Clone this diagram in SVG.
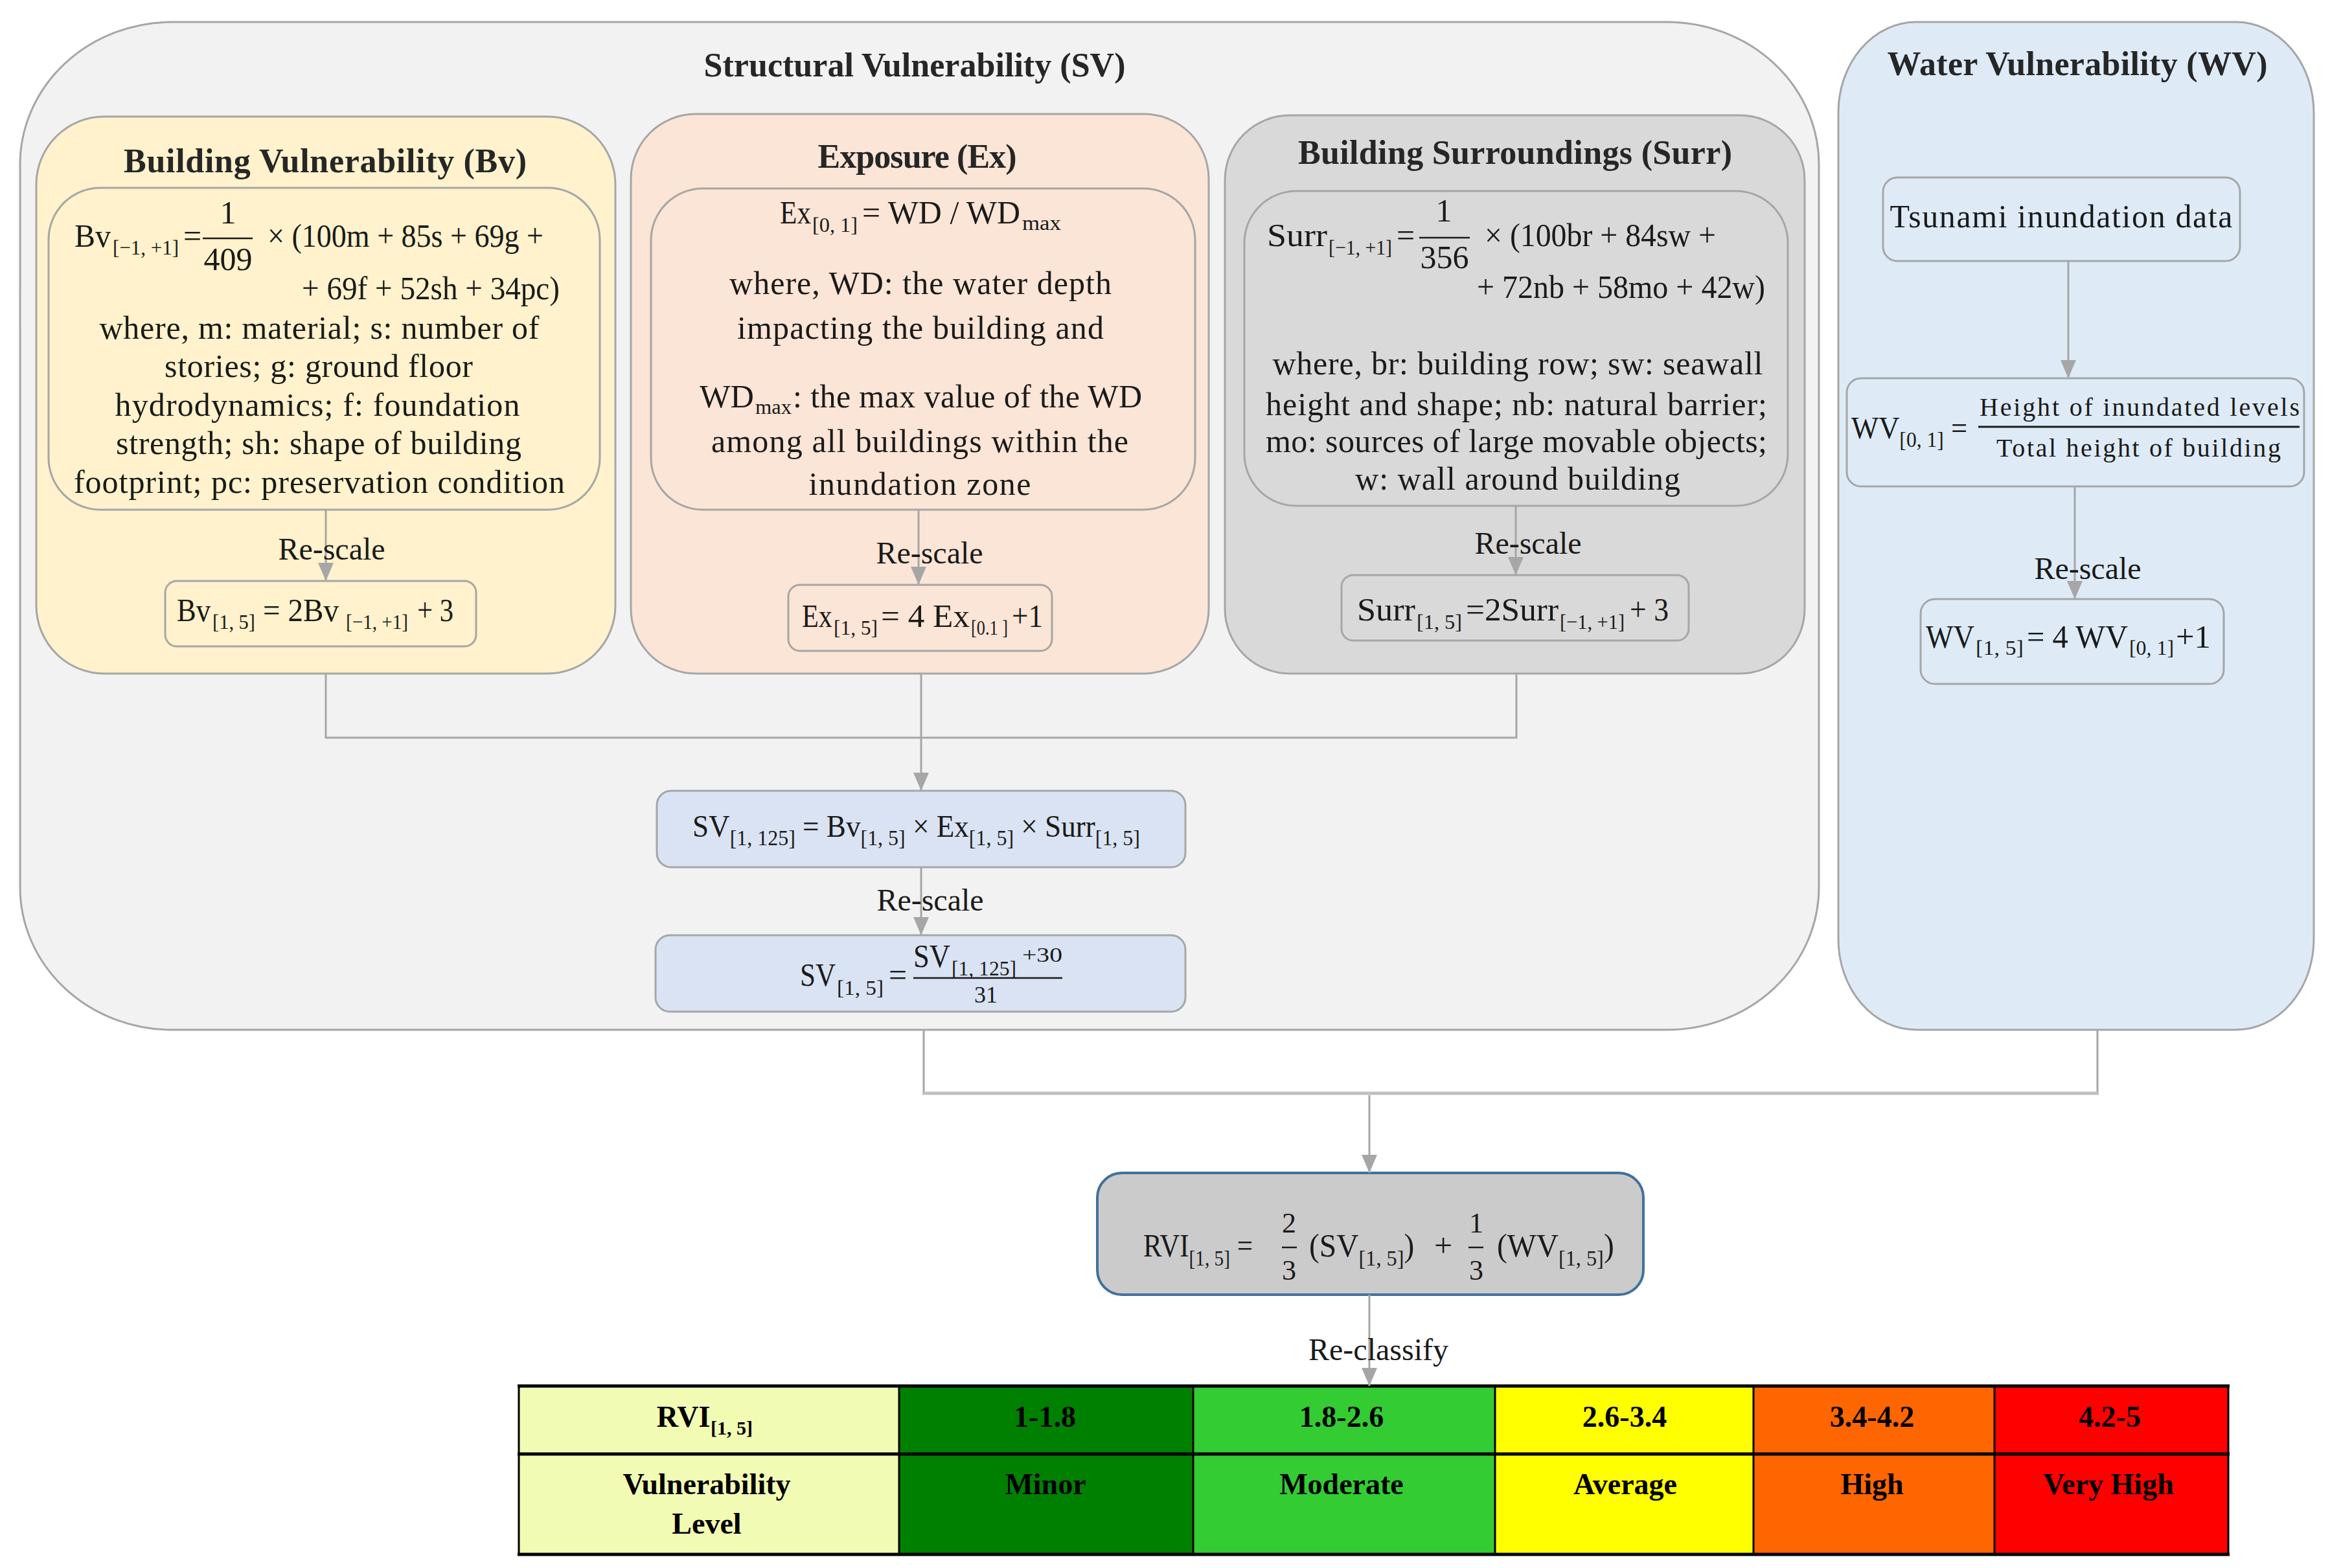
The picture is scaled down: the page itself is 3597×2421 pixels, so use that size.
<svg xmlns="http://www.w3.org/2000/svg" width="3597" height="2421" viewBox="0 0 3597 2421">
<defs>
<style>
text{font-family:'Liberation Serif','DejaVu Serif',serif;fill:#1a1a1a;font-size:50px}
.ttl{font-weight:bold;font-size:52px;fill:#262626}
.sub{font-size:32px}
.s34{font-size:34px}
.sm{font-size:40px}
.fr{font-size:44px}
.lbl{font-size:48px}
.m{text-anchor:middle}
.box{stroke:#a6a6a6;stroke-width:3}
.conn{stroke:#a6a6a6;stroke-width:3;fill:none}
.frac{stroke:#1a1a1a;stroke-width:2.5}
.tb{font-weight:bold;font-size:46px;fill:#000;text-anchor:middle}
.tbs{font-weight:bold;font-size:30px;fill:#000}
.grid{stroke:#000;fill:none}
</style>
<marker id="arr" markerUnits="userSpaceOnUse" markerWidth="28" markerHeight="24" refX="28" refY="12" orient="auto">
<path d="M0,0 L28,12 L0,24 Z" fill="#a6a6a6"/>
</marker>
</defs>
<rect width="3597" height="2421" fill="#ffffff"/>

<g id="sv-container">
<rect class="box" x="31" y="34" width="2777" height="1556" rx="235" ry="220" fill="#f2f2f2"/>
<text class="ttl m" x="1412" y="118" textLength="651">Structural Vulnerability (SV)</text>
</g>

<g id="wv-container">
<rect class="box" x="2838" y="34" width="734" height="1556" rx="120" ry="140" fill="#deebf7"/>
<text class="ttl m" x="3207" y="116" textLength="587">Water Vulnerability (WV)</text>
</g>

<g id="bv-group">
<rect class="box" x="56" y="180" width="894" height="860" rx="105" fill="#fff2cc"/>
<text class="ttl m" x="502" y="266" textLength="622">Building Vulnerability (Bv)</text>
</g>

<g id="bv-formula">
<rect class="box" x="75" y="290" width="851" height="497" rx="80" fill="#fff2cc"/>
<text x="115" y="381" textLength="56" lengthAdjust="spacingAndGlyphs">Bv</text>
<text class="sub" x="174" y="393" textLength="102" lengthAdjust="spacingAndGlyphs">[−1, +1]</text>
<text x="283" y="381">=</text>
<text class="m" x="352" y="345">1</text>
<line class="frac" x1="313" y1="368" x2="390" y2="368"/>
<text class="m" x="352" y="417">409</text>
<text x="413" y="381" textLength="426" lengthAdjust="spacingAndGlyphs">× (100m + 85s + 69g +</text>
<text x="466" y="462" textLength="398" lengthAdjust="spacingAndGlyphs">+ 69f + 52sh + 34pc)</text>
<text class="m" x="493" y="523" textLength="679">where, m: material; s: number of</text>
<text class="m" x="492" y="582" textLength="476">stories; g: ground floor</text>
<text class="m" x="490" y="642" textLength="625">hydrodynamics; f: foundation</text>
<text class="m" x="492" y="701" textLength="626">strength; sh: shape of building</text>
<text class="m" x="493" y="761" textLength="758">footprint; pc: preservation condition</text>
</g>

<g id="bv-rescaled">
<rect class="box" x="255" y="897" width="480" height="101" rx="18" fill="#fff2cc"/>
<text x="273" y="959" textLength="52" lengthAdjust="spacingAndGlyphs">Bv</text>
<text class="sub" x="328" y="971" textLength="66" lengthAdjust="spacingAndGlyphs">[1, 5]</text>
<text x="406" y="959" textLength="117" lengthAdjust="spacingAndGlyphs">= 2Bv</text>
<text class="sub" x="534" y="971" textLength="96" lengthAdjust="spacingAndGlyphs">[−1, +1]</text>
<text x="644" y="959" textLength="56" lengthAdjust="spacingAndGlyphs">+ 3</text>
</g>

<g id="ex-group">
<rect class="box" x="974" y="176" width="892" height="864" rx="100" fill="#fbe5d6"/>
<text class="ttl m" x="1416" y="259" textLength="307">Exposure (Ex)</text>
</g>

<g id="ex-formula">
<rect class="box" x="1005" y="291" width="840" height="496" rx="80" fill="#fbe5d6"/>
<text x="1204" y="345" textLength="48" lengthAdjust="spacingAndGlyphs">Ex</text>
<text class="sub" x="1254" y="358" textLength="70" lengthAdjust="spacingAndGlyphs">[0, 1]</text>
<text x="1331" y="345" textLength="244" lengthAdjust="spacingAndGlyphs">= WD / WD</text>
<text class="sub" x="1578" y="355" textLength="60" lengthAdjust="spacingAndGlyphs">max</text>
<text class="m" x="1421" y="454" textLength="590">where, WD: the water depth</text>
<text class="m" x="1421" y="523" textLength="566">impacting the building and</text>
<text x="1080" y="629" textLength="84" lengthAdjust="spacingAndGlyphs">WD</text>
<text class="sub" x="1166" y="639" textLength="56" lengthAdjust="spacingAndGlyphs">max</text>
<text x="1224" y="629" textLength="539">: the max value of the WD</text>
<text class="m" x="1420" y="698" textLength="644">among all buildings within the</text>
<text class="m" x="1420" y="764" textLength="343">inundation zone</text>
</g>

<g id="ex-rescaled">
<rect class="box" x="1217" y="903" width="407" height="102" rx="18" fill="#fbe5d6"/>
<text x="1238" y="968" textLength="47" lengthAdjust="spacingAndGlyphs">Ex</text>
<text class="sub" x="1287" y="980" textLength="68" lengthAdjust="spacingAndGlyphs">[1, 5]</text>
<text x="1360" y="968" textLength="137" lengthAdjust="spacingAndGlyphs">= 4 Ex</text>
<text class="sub" x="1499" y="980" textLength="57" lengthAdjust="spacingAndGlyphs">[0.1 ]</text>
<text x="1562" y="968" textLength="48" lengthAdjust="spacingAndGlyphs">+1</text>
</g>

<g id="surr-group">
<rect class="box" x="1891" y="178" width="895" height="862" rx="100" fill="#d9d9d9"/>
<text class="ttl m" x="2339" y="253" textLength="670">Building Surroundings (Surr)</text>
</g>

<g id="surr-formula">
<rect class="box" x="1921" y="295" width="839" height="486" rx="80" fill="#d9d9d9"/>
<text x="1956" y="380" textLength="93" lengthAdjust="spacingAndGlyphs">Surr</text>
<text class="sub" x="2051" y="393" textLength="98" lengthAdjust="spacingAndGlyphs">[−1, +1]</text>
<text x="2156" y="380">=</text>
<text class="m" x="2229" y="342">1</text>
<line class="frac" x1="2191" y1="367" x2="2269" y2="367"/>
<text class="m" x="2230" y="414">356</text>
<text x="2292" y="380" textLength="357" lengthAdjust="spacingAndGlyphs">× (100br + 84sw +</text>
<text x="2280" y="460" textLength="445" lengthAdjust="spacingAndGlyphs">+ 72nb + 58mo + 42w)</text>
<text class="m" x="2343" y="578" textLength="757">where, br: building row; sw: seawall</text>
<text class="m" x="2341" y="641" textLength="774">height and shape; nb: natural barrier;</text>
<text class="m" x="2341" y="698" textLength="774">mo: sources of large movable objects;</text>
<text class="m" x="2343" y="756" textLength="502">w: wall around building</text>
</g>

<g id="surr-rescaled">
<rect class="box" x="2071" y="888" width="536" height="101" rx="18" fill="#d9d9d9"/>
<text x="2095" y="958" textLength="90" lengthAdjust="spacingAndGlyphs">Surr</text>
<text class="sub" x="2187" y="971" textLength="70" lengthAdjust="spacingAndGlyphs">[1, 5]</text>
<text x="2263" y="958" textLength="143" lengthAdjust="spacingAndGlyphs">=2Surr</text>
<text class="sub" x="2408" y="971" textLength="100" lengthAdjust="spacingAndGlyphs">[−1, +1]</text>
<text x="2516" y="958" textLength="60" lengthAdjust="spacingAndGlyphs">+ 3</text>
</g>

<g id="sv-product">
<rect class="box" x="1014" y="1221" width="816" height="118" rx="22" fill="#dae3f3"/>
<text transform="translate(1069,1292) scale(0.94,1)" style="font-size:48px">SV<tspan class="s34" dy="13">[1, 125]</tspan><tspan dy="-13"> = Bv</tspan><tspan class="s34" dy="13">[1, 5]</tspan><tspan dy="-13"> × Ex</tspan><tspan class="s34" dy="13">[1, 5]</tspan><tspan dy="-13"> × Surr</tspan><tspan class="s34" dy="13">[1, 5]</tspan></text>
</g>

<g id="sv-rescaled">
<rect class="box" x="1012" y="1444" width="818" height="118" rx="22" fill="#dae3f3"/>
<text x="1235" y="1522" textLength="55" lengthAdjust="spacingAndGlyphs">SV</text>
<text class="sub" x="1292" y="1536" textLength="72" lengthAdjust="spacingAndGlyphs">[1, 5]</text>
<text x="1372" y="1522">=</text>
<text x="1410" y="1493" textLength="57" lengthAdjust="spacingAndGlyphs">SV</text>
<text class="sub" x="1469" y="1506" textLength="100" lengthAdjust="spacingAndGlyphs">[1, 125]</text>
<text class="sub" x="1578" y="1485" textLength="62" lengthAdjust="spacingAndGlyphs">+30</text>
<line class="frac" x1="1410" y1="1510" x2="1640" y2="1510"/>
<text class="m" x="1522" y="1548" style="font-size:36px">31</text>
</g>

<g id="tsunami-data">
<rect class="box" x="2907" y="274" width="551" height="129" rx="22" fill="#deebf7"/>
<text class="m" x="3182" y="351" textLength="529">Tsunami inundation data</text>
</g>

<g id="wv-formula">
<rect class="box" x="2851" y="584" width="706" height="167" rx="22" fill="#deebf7"/>
<text transform="translate(2858,677) scale(0.93,1)" style="font-size:48px">WV<tspan class="s34" dy="13">[0, 1]</tspan><tspan dy="-13"> =</tspan></text>
<text class="sm" x="3056" y="642" textLength="494">Height of inundated levels</text>
<line x1="3054" y1="659" x2="3550" y2="659" stroke="#1a1a1a" stroke-width="3"/>
<text class="sm" x="3082" y="705" textLength="439">Total height of building</text>
</g>

<g id="wv-rescaled">
<rect class="box" x="2965" y="925" width="468" height="131" rx="22" fill="#deebf7"/>
<text x="2973" y="1000" textLength="75" lengthAdjust="spacingAndGlyphs">WV</text>
<text class="sub" x="3050" y="1011" textLength="74" lengthAdjust="spacingAndGlyphs">[1, 5]</text>
<text x="3129" y="1000" textLength="156" lengthAdjust="spacingAndGlyphs">= 4 WV</text>
<text class="sub" x="3287" y="1011" textLength="69" lengthAdjust="spacingAndGlyphs">[0, 1]</text>
<text x="3359" y="1000" textLength="54" lengthAdjust="spacingAndGlyphs">+1</text>
</g>

<g id="rvi">
<rect x="1694" y="1811" width="843" height="188" rx="38" fill="#cbcbcb" stroke="#41719c" stroke-width="4"/>
<text transform="translate(1765,1940) scale(0.86,1)">RVI<tspan class="s34" dy="14">[1, 5]</tspan><tspan dy="-14"> =</tspan></text>
<text class="m fr" x="1990" y="1903">2</text>
<line class="frac" x1="1979" y1="1926" x2="2002" y2="1926"/>
<text class="m fr" x="1990" y="1976">3</text>
<text transform="translate(2021,1940) scale(0.95,1)">(SV<tspan class="s34" dy="14">[1, 5]</tspan><tspan dy="-14">)</tspan></text>
<text x="2214" y="1940">+</text>
<text class="m fr" x="2279" y="1903">1</text>
<line class="frac" x1="2267" y1="1926" x2="2290" y2="1926"/>
<text class="m fr" x="2279" y="1976">3</text>
<text transform="translate(2311,1940) scale(0.95,1)">(WV<tspan class="s34" dy="14">[1, 5]</tspan><tspan dy="-14">)</tspan></text>
</g>

<g id="classification-table">
<rect x="801" y="2140" width="587" height="260" fill="#f2fbb3"/>
<rect x="1388" y="2140" width="454" height="260" fill="#008000"/>
<rect x="1842" y="2140" width="466" height="260" fill="#33cc33"/>
<rect x="2308" y="2140" width="399" height="260" fill="#ffff00"/>
<rect x="2707" y="2140" width="372" height="260" fill="#ff6600"/>
<rect x="3079" y="2140" width="361" height="260" fill="#ff0000"/>
<g class="grid" stroke-width="3">
<line x1="801" y1="2140" x2="801" y2="2400"/>
<line x1="1388" y1="2140" x2="1388" y2="2400"/>
<line x1="1842" y1="2140" x2="1842" y2="2400"/>
<line x1="2308" y1="2140" x2="2308" y2="2400"/>
<line x1="2707" y1="2140" x2="2707" y2="2400"/>
<line x1="3079" y1="2140" x2="3079" y2="2400"/>
<line x1="3440" y1="2140" x2="3440" y2="2400"/>
</g>
<g class="grid" stroke-width="5">
<line x1="799" y1="2140" x2="3442" y2="2140"/>
<line x1="799" y1="2245" x2="3442" y2="2245"/>
<line x1="799" y1="2400" x2="3442" y2="2400"/>
</g>
<text class="tb" x="1055" y="2203">RVI</text>
<text class="tbs" x="1097" y="2215">[1, 5]</text>
<text class="tb" x="1613" y="2203">1-1.8</text>
<text class="tb" x="2071" y="2203">1.8-2.6</text>
<text class="tb" x="2508" y="2203">2.6-3.4</text>
<text class="tb" x="2890" y="2203">3.4-4.2</text>
<text class="tb" x="3257" y="2203">4.2-5</text>
<text class="tb" x="1091" y="2307">Vulnerability</text>
<text class="tb" x="1091" y="2368">Level</text>
<text class="tb" x="1614" y="2307">Minor</text>
<text class="tb" x="2071" y="2307">Moderate</text>
<text class="tb" x="2509" y="2307">Average</text>
<text class="tb" x="2890" y="2307">High</text>
<text class="tb" x="3255" y="2307">Very High</text>
</g>

<g id="connectors">
<path class="conn" d="M503,1040 V1139 H2341 V1040"/>
<line class="conn" x1="1422" y1="1040" x2="1422" y2="1221" marker-end="url(#arr)"/>
<line class="conn" x1="503" y1="787" x2="503" y2="897" marker-end="url(#arr)"/>
<line class="conn" x1="1418" y1="787" x2="1418" y2="903" marker-end="url(#arr)"/>
<line class="conn" x1="2340" y1="781" x2="2340" y2="888" marker-end="url(#arr)"/>
<line class="conn" x1="1422" y1="1339" x2="1422" y2="1444" marker-end="url(#arr)"/>
<line class="conn" x1="3193" y1="403" x2="3193" y2="584" marker-end="url(#arr)"/>
<line class="conn" x1="3203" y1="751" x2="3203" y2="925" marker-end="url(#arr)"/>
<line class="conn" x1="1426" y1="1590" x2="1426" y2="1688"/>
<line class="conn" x1="3238" y1="1590" x2="3238" y2="1688"/>
<line x1="1424" y1="1688" x2="3240" y2="1688" stroke="#bfbfbf" stroke-width="5"/>
<line class="conn" x1="2114" y1="1691" x2="2114" y2="1811" marker-end="url(#arr)"/>
<line class="conn" x1="2114" y1="1999" x2="2114" y2="2140" marker-end="url(#arr)"/>
<text class="lbl m" x="512" y="864">Re-scale</text>
<text class="lbl m" x="1435" y="870">Re-scale</text>
<text class="lbl m" x="2359" y="855">Re-scale</text>
<text class="lbl m" x="1436" y="1406">Re-scale</text>
<text class="lbl m" x="3223" y="894">Re-scale</text>
<text class="lbl m" x="2128" y="2100">Re-classify</text>
</g>
</svg>
